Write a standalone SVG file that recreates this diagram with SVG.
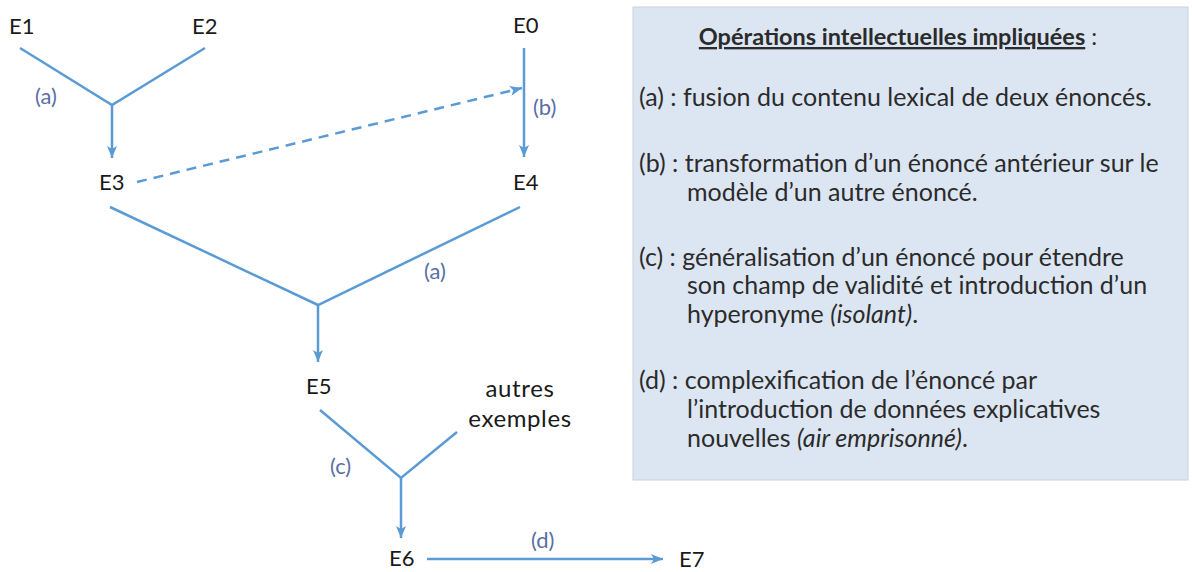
<svg xmlns="http://www.w3.org/2000/svg" width="1192" height="572" viewBox="0 0 1192 572">
<defs>
<marker id="ah" viewBox="0 0 12 10" refX="12" refY="5" markerWidth="12" markerHeight="10" markerUnits="userSpaceOnUse" orient="auto">
<path d="M0,0 L12,5 L0,10 L3,5 z" fill="#5b9bd5"/>
</marker>
<style>
.e{font-family:Lato,"Open Sans","Liberation Sans",sans-serif;font-size:22px;fill:#1a1a1a}
.x{font-family:Lato,"Open Sans","Liberation Sans",sans-serif;font-size:24px;letter-spacing:0.6px;fill:#1a1a1a}
.lb{font-family:Lato,"Open Sans","Liberation Sans",sans-serif;font-size:22px;fill:#5a6ea6}
.t{font-family:Lato,"Open Sans","Liberation Sans",sans-serif;font-size:25px;fill:#2b2b2b}
.h{font-family:Lato,"Open Sans","Liberation Sans",sans-serif;font-size:23.5px;fill:#2b2b2b}
.c{fill:none;stroke:#5b9bd5;stroke-width:2.5}
.a{marker-end:url(#ah)}
.d{stroke-dasharray:10 7}
</style>
</defs>
<rect x="0" y="0" width="1192" height="572" fill="#ffffff"/>
<g id="legend">
<rect x="633" y="7" width="555" height="473" fill="#dce6f2" stroke="#c9d2dc" stroke-width="1"/>
<text class="h" x="898" y="45" text-anchor="middle"><tspan font-weight="bold" text-decoration="underline">Opérations intellectuelles impliquées</tspan> :</text>
<text class="t" x="639" y="106">(a) : fusion du contenu lexical de deux énoncés.</text>
<text class="t" x="639" y="172">(b) : transformation d’un énoncé antérieur sur le</text>
<text class="t" x="687" y="201">modèle d’un autre énoncé.</text>
<text class="t" x="639" y="266">(c) : généralisation d’un énoncé pour étendre</text>
<text class="t" x="687" y="294">son champ de validité et introduction d’un</text>
<text class="t" x="687" y="323">hyperonyme <tspan font-style="italic">(isolant)</tspan>.</text>
<text class="t" x="639" y="389">(d) : complexification de l’énoncé par</text>
<text class="t" x="687" y="418">l’introduction de données explicatives</text>
<text class="t" x="687" y="447">nouvelles <tspan font-style="italic">(air emprisonné)</tspan>.</text>
</g>
<g id="E1"><text class="e" x="9" y="34">E1</text></g>
<g id="E2"><text class="e" x="192" y="34">E2</text></g>
<g id="E0"><text class="e" x="513" y="33">E0</text></g>
<g id="E3"><text class="e" x="99" y="190">E3</text></g>
<g id="E4"><text class="e" x="513" y="190">E4</text></g>
<g id="E5"><text class="e" x="306" y="394">E5</text></g>
<g id="autres"><text class="x" x="520" y="397" text-anchor="middle">autres</text><text class="x" x="520" y="427" text-anchor="middle">exemples</text></g>
<g id="E6"><text class="e" x="389" y="566">E6</text></g>
<g id="E7"><text class="e" x="679" y="567">E7</text></g>
<g id="connectors">
<polyline class="c" points="20,48 112,105 205,48"/>
<line class="c a" x1="112" y1="105" x2="112" y2="158"/>
<line class="c a d" x1="137" y1="182" x2="522" y2="88"/>
<line class="c a" x1="524" y1="48" x2="524" y2="157"/>
<polyline class="c" points="110,207 318,305 520,207"/>
<line class="c a" x1="318" y1="305" x2="318" y2="362"/>
<polyline class="c" points="320,410 401,478 457,432"/>
<line class="c a" x1="401" y1="478" x2="401" y2="538"/>
<line class="c a" x1="427" y1="559" x2="663" y2="559"/>
<text class="lb" x="35" y="104">(a)</text>
<text class="lb" x="533" y="115">(b)</text>
<text class="lb" x="424" y="279">(a)</text>
<text class="lb" x="330" y="474">(c)</text>
<text class="lb" x="531" y="548">(d)</text>
</g>
</svg>
